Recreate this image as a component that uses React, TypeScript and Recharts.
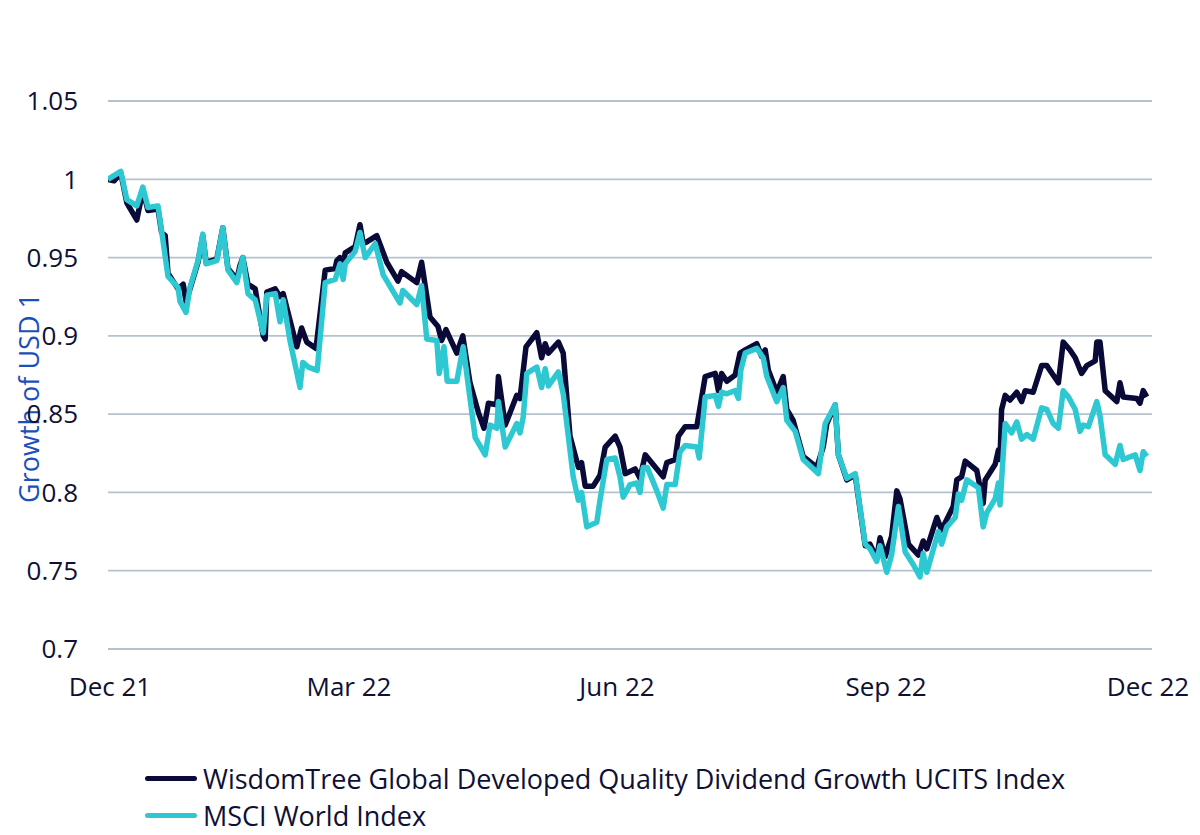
import React from "react";
import { LineChart, Line, XAxis, YAxis, CartesianGrid } from "recharts";

// x = trading-day index from 31 Dec 2021, y = growth of USD 1
const wtSeries: [number, number][] = [
  [0, 1.0], [1.5, 0.999], [3.2, 1.004], [4.7, 0.985], [7.2, 0.974], [8.7, 0.993], [10, 0.98], [12.5, 0.981],
  [13.4, 0.966], [14.3, 0.964], [15, 0.94], [17.5, 0.93], [18.8, 0.933], [19.5, 0.922], [20.5, 0.93], [22.5, 0.947],
  [23.7, 0.964], [24.5, 0.947], [27.2, 0.949], [28.7, 0.969], [30, 0.943], [32.2, 0.936], [33, 0.945], [33.7, 0.95],
  [35, 0.933], [36.8, 0.93], [38.8, 0.9], [39.3, 0.898], [39.7, 0.928], [41.8, 0.93], [43, 0.925], [43.8, 0.927],
  [47.2, 0.893], [48.4, 0.905], [49.7, 0.896], [52, 0.892], [54.3, 0.942], [56.8, 0.943], [57.2, 0.948], [58, 0.95],
  [58.8, 0.945], [59.3, 0.953], [61.8, 0.957], [63, 0.971], [63.8, 0.959], [64.7, 0.96], [67.2, 0.964], [69.7, 0.947],
  [72.5, 0.935], [73.4, 0.941], [77.2, 0.934], [78.4, 0.947], [80.5, 0.912], [82.5, 0.906], [83.4, 0.897], [84.5, 0.904],
  [87.2, 0.889], [88.7, 0.9], [90.5, 0.87], [92.6, 0.851], [94, 0.841], [95.1, 0.857], [97.2, 0.856], [97.6, 0.874],
  [99.3, 0.843], [102.2, 0.862], [103, 0.86], [104.5, 0.893], [107.2, 0.902], [108.4, 0.886], [109.3, 0.895], [110.1, 0.889],
  [112.6, 0.896], [113.8, 0.889], [115.5, 0.836], [117.6, 0.816], [118.4, 0.819], [119.3, 0.804], [121.3, 0.804], [123, 0.811],
  [124.3, 0.829], [126.8, 0.836], [128, 0.829], [129.3, 0.812], [131.8, 0.815], [133, 0.809], [134.3, 0.824], [138.8, 0.81],
  [139.7, 0.819], [141.8, 0.821], [142.6, 0.836], [144.3, 0.842], [147.2, 0.842], [149.3, 0.874], [151.8, 0.876], [152.6, 0.865],
  [153.4, 0.876], [154.7, 0.871], [156.8, 0.875], [158, 0.889], [159.3, 0.891], [162.2, 0.895], [163.4, 0.887], [164.3, 0.891],
  [165.1, 0.878], [167.2, 0.864], [168.8, 0.874], [169.7, 0.853], [171.3, 0.846], [173.8, 0.823], [177.2, 0.816], [178.8, 0.829],
  [179.7, 0.844], [181.8, 0.856], [182.6, 0.824], [184.7, 0.808], [186.8, 0.811], [189.3, 0.766], [190.5, 0.767], [192.2, 0.758],
  [193, 0.771], [194.3, 0.759], [195.9, 0.772], [197.2, 0.801], [198, 0.796], [200.1, 0.767], [202.6, 0.76], [203.8, 0.769],
  [204.7, 0.764], [207.2, 0.784], [208.4, 0.776], [211.3, 0.791], [212.2, 0.808], [213.4, 0.81], [214.3, 0.82], [217.2, 0.814],
  [218.8, 0.793], [219.3, 0.808], [221.8, 0.818], [222.6, 0.827], [223, 0.821], [223.4, 0.853], [224.3, 0.862], [225.5, 0.859],
  [227.2, 0.864], [228.4, 0.858], [229.3, 0.865], [231.3, 0.864], [233.4, 0.881], [234.7, 0.881], [237.6, 0.87], [238.8, 0.896],
  [240.5, 0.891], [241.8, 0.886], [243.4, 0.876], [244.7, 0.881], [246.8, 0.884], [247.2, 0.896], [248, 0.896], [249.3, 0.865],
  [252.2, 0.858], [253, 0.87], [253.8, 0.861], [257.2, 0.86], [258, 0.857], [258.8, 0.865], [259.7, 0.861],
];

const msciSeries: [number, number][] = [
  [0, 1.0], [3.2, 1.005], [4.7, 0.987], [7.2, 0.983], [8.7, 0.995], [10, 0.982], [12.5, 0.983], [13.4, 0.967],
  [15, 0.938], [17.5, 0.931], [18, 0.922], [19.5, 0.915], [20.5, 0.931], [22.5, 0.948], [23.7, 0.965], [24.5, 0.946],
  [27.2, 0.948], [28.7, 0.969], [30, 0.942], [32.2, 0.934], [33.7, 0.95], [35, 0.927], [36.8, 0.923], [38.8, 0.902],
  [39.7, 0.926], [41.8, 0.927], [43, 0.909], [43.8, 0.923], [45.5, 0.897], [48, 0.867], [48.7, 0.883], [50.1, 0.88],
  [52.3, 0.878], [54.3, 0.934], [56.8, 0.936], [58, 0.946], [58.8, 0.936], [59.3, 0.946], [61.8, 0.954], [63, 0.966],
  [64.3, 0.95], [66.8, 0.959], [68.8, 0.939], [73, 0.921], [73.7, 0.929], [77.2, 0.92], [78.4, 0.932], [79.7, 0.898],
  [82.2, 0.897], [82.8, 0.876], [84, 0.893], [84.8, 0.871], [87.2, 0.871], [88.8, 0.893], [91.8, 0.835], [94.3, 0.824],
  [95.5, 0.843], [97.2, 0.841], [97.6, 0.858], [99.3, 0.829], [102.2, 0.844], [103, 0.838], [103.8, 0.848], [104.7, 0.876],
  [107.2, 0.88], [108.4, 0.867], [109.3, 0.879], [110.1, 0.868], [112.6, 0.877], [113.8, 0.863], [116.3, 0.81], [117.6, 0.795],
  [118.4, 0.8], [119.7, 0.778], [122.2, 0.781], [123, 0.795], [124.7, 0.821], [126.8, 0.822], [128, 0.81], [128.8, 0.797],
  [130.5, 0.805], [132.2, 0.806], [133, 0.8], [133.8, 0.816], [134.8, 0.816], [137.2, 0.801], [138.8, 0.79], [139.7, 0.805],
  [141.8, 0.805], [143, 0.826], [144.3, 0.83], [147.2, 0.829], [147.8, 0.822], [149.3, 0.861], [151.8, 0.862], [152.6, 0.855],
  [153.4, 0.864], [154.7, 0.863], [156.8, 0.865], [157.6, 0.86], [158.2, 0.878], [159.3, 0.889], [162.2, 0.892], [163.8, 0.886],
  [164.7, 0.874], [167.2, 0.858], [168.8, 0.867], [169.7, 0.846], [171.8, 0.839], [173.8, 0.821], [177.6, 0.812], [179.3, 0.844],
  [181.8, 0.856], [182.6, 0.824], [184.7, 0.809], [186.8, 0.812], [189.3, 0.767], [190.5, 0.764], [192.2, 0.756], [193, 0.766],
  [194.7, 0.749], [195.9, 0.76], [197.6, 0.791], [199.3, 0.762], [201.3, 0.754], [203, 0.746], [203.8, 0.761], [204.7, 0.749],
  [207.6, 0.775], [208.4, 0.767], [209.7, 0.778], [211.8, 0.784], [212.6, 0.799], [213.4, 0.795], [214.7, 0.808], [217.6, 0.803],
  [218.8, 0.778], [219.7, 0.787], [221.8, 0.796], [222.6, 0.806], [223, 0.792], [224.3, 0.844], [225.9, 0.838], [227.2, 0.845],
  [228.4, 0.834], [229.7, 0.837], [231.3, 0.834], [233.4, 0.854], [234.7, 0.853], [236.3, 0.844], [237.6, 0.841], [238.8, 0.865],
  [240.1, 0.861], [241.8, 0.853], [243, 0.839], [243.8, 0.843], [245.1, 0.842], [247.2, 0.858], [248, 0.849], [249.3, 0.824],
  [251.8, 0.818], [253, 0.83], [253.8, 0.821], [256.8, 0.824], [258, 0.814], [258.8, 0.826], [259.7, 0.823],
];

const xTickDays = [0.5, 60.25, 127.25, 194.5, 260];
const xTickLabels = ["Dec 21", "Mar 22", "Jun 22", "Sep 22", "Dec 22"];
const yTicks = [0.7, 0.75, 0.8, 0.85, 0.9, 0.95, 1.0, 1.05];
const seriesNames = [
  "WisdomTree Global Developed Quality Dividend Growth UCITS Index",
  "MSCI World Index",
];
const seriesColors = ["#0A0A38", "#2EC8D2"];
const yAxisTitle = "Growth of USD 1";

const FONT = "'Open Sans', sans-serif";
const TEXT = "#0E1035";

const wtData = wtSeries.map(([d, v]) => ({ d, v }));
const msciData = msciSeries.map(([d, v]) => ({ d, v }));

const fmtX = (v: number) => {
  const i = xTickDays.indexOf(v);
  return i >= 0 ? xTickLabels[i] : "";
};
const fmtY = (v: number) => String(Number(v.toFixed(2)));

const YTitle = (props: any) => {
  const vb = props.viewBox || {};
  const cy = vb.y + vb.height / 2 + 23;
  const cx = 20;
  return (
    <text
      x={cx}
      y={cy}
      transform={`rotate(-90, ${cx}, ${cy})`}
      textAnchor="middle"
      dominantBaseline="central"
      fill="#1A50BC"
      fontSize={27}
      fontFamily={FONT}
    >
      {yAxisTitle}
    </text>
  );
};

export default function App() {
  return (
    <div style={{ position: "relative", width: 1184, height: 819, fontFamily: FONT }}>
      <LineChart
        width={1184}
        height={819}
        margin={{ top: 93, right: 40, left: 0, bottom: 118 }}
      >
        <CartesianGrid vertical={false} stroke="#B5C2CE" strokeWidth={1.8} />
        <XAxis
          type="number"
          dataKey="d"
          domain={[0, 261]}
          ticks={xTickDays}
          interval={0}
          tickFormatter={fmtX}
          axisLine={false}
          tickLine={false}
          tickMargin={23}
          height={60}
          tick={{ fill: TEXT, fontSize: 26, fontFamily: FONT }}
          allowDataOverflow
        />
        <YAxis
          type="number"
          domain={[0.7, 1.05]}
          ticks={yTicks}
          interval={0}
          tickFormatter={fmtY}
          axisLine={false}
          tickLine={false}
          tickMargin={24}
          width={100}
          tick={{ fill: TEXT, fontSize: 26, fontFamily: FONT }}
          label={<YTitle />}
        />
        <Line
          data={wtData}
          dataKey="v"
          name={seriesNames[0]}
          stroke={seriesColors[0]}
          strokeWidth={5.5}
          dot={false}
          activeDot={false}
          type="linear"
          strokeLinejoin="round"
          isAnimationActive={false}
        />
        <Line
          data={msciData}
          dataKey="v"
          name={seriesNames[1]}
          stroke={seriesColors[1]}
          strokeWidth={5.5}
          dot={false}
          activeDot={false}
          type="linear"
          strokeLinejoin="round"
          isAnimationActive={false}
        />
      </LineChart>
      <div style={{ position: "absolute", left: 137, top: 752 }}>
        {seriesNames.map((n, i) => (
          <div key={n} style={{ display: "flex", alignItems: "center", height: 37 }}>
            <div
              style={{
                width: 52,
                height: 5,
                borderRadius: 3,
                background: seriesColors[i],
                marginRight: 6,
              }}
            />
            <span style={{ fontSize: 27, color: TEXT, fontFamily: FONT, whiteSpace: "nowrap" }}>{n}</span>
          </div>
        ))}
      </div>
    </div>
  );
}
